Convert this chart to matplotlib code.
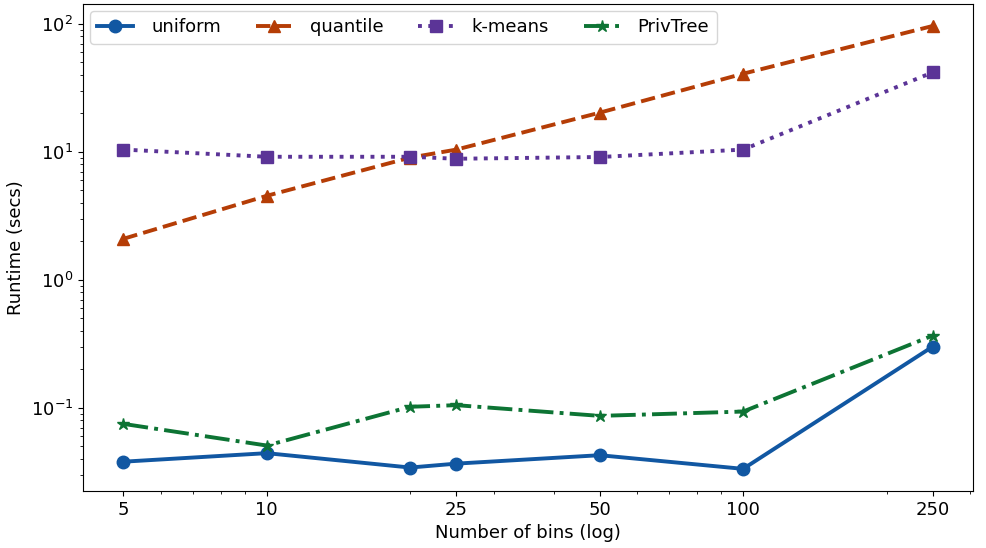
import matplotlib
matplotlib.use("Agg")
import matplotlib.pyplot as plt
from matplotlib.ticker import NullFormatter, FixedLocator, FixedFormatter

bins = [5, 10, 20, 25, 50, 100, 250]
uniform = [0.038, 0.0443, 0.0342, 0.0367, 0.0427, 0.0334, 0.301]
quantile = [2.09, 4.53, 9.0, 10.4, 20.2, 40.7, 96.0]
kmeans = [10.4, 9.14, 9.14, 8.82, 9.1, 10.4, 41.7]
privtree = [0.075, 0.0508, 0.102, 0.105, 0.0866, 0.0936, 0.367]
xtick_vals = [5, 10, 25, 50, 100, 250]
xtick_labels = ["5", "10", "25", "50", "100", "250"]

fig = plt.figure(figsize=(9.87, 5.48), dpi=100)
ax = fig.add_axes([0.084, 0.104, 0.902, 0.889])

ax.plot(bins, uniform, color="#1157a2", ls="-", lw=2.8, marker="o", ms=9, label="uniform")
ax.plot(bins, quantile, color="#b53d06", ls="--", lw=2.8, marker="^", ms=9, label="quantile")
ax.plot(bins, kmeans, color="#5b3497", ls=":", lw=2.8, marker="s", ms=9, label="k-means")
ax.plot(bins, privtree, color="#0d7434", ls="-.", lw=2.8, marker="*", ms=9, label="PrivTree")

ax.set_xscale("log")
ax.set_yscale("log")
ax.xaxis.set_major_locator(FixedLocator(xtick_vals))
ax.xaxis.set_major_formatter(FixedFormatter(xtick_labels))
ax.xaxis.set_minor_formatter(NullFormatter())
ax.tick_params(labelsize=13)
ax.set_xlabel("Number of bins (log)", fontsize=13)
ax.set_ylabel("Runtime (secs)", fontsize=13)
ax.legend(loc="upper left", ncol=4, fontsize=13, handlelength=2.0,
          handletextpad=1.0, columnspacing=1.9, borderaxespad=0.4)

fig.savefig("out.png", dpi=100)
